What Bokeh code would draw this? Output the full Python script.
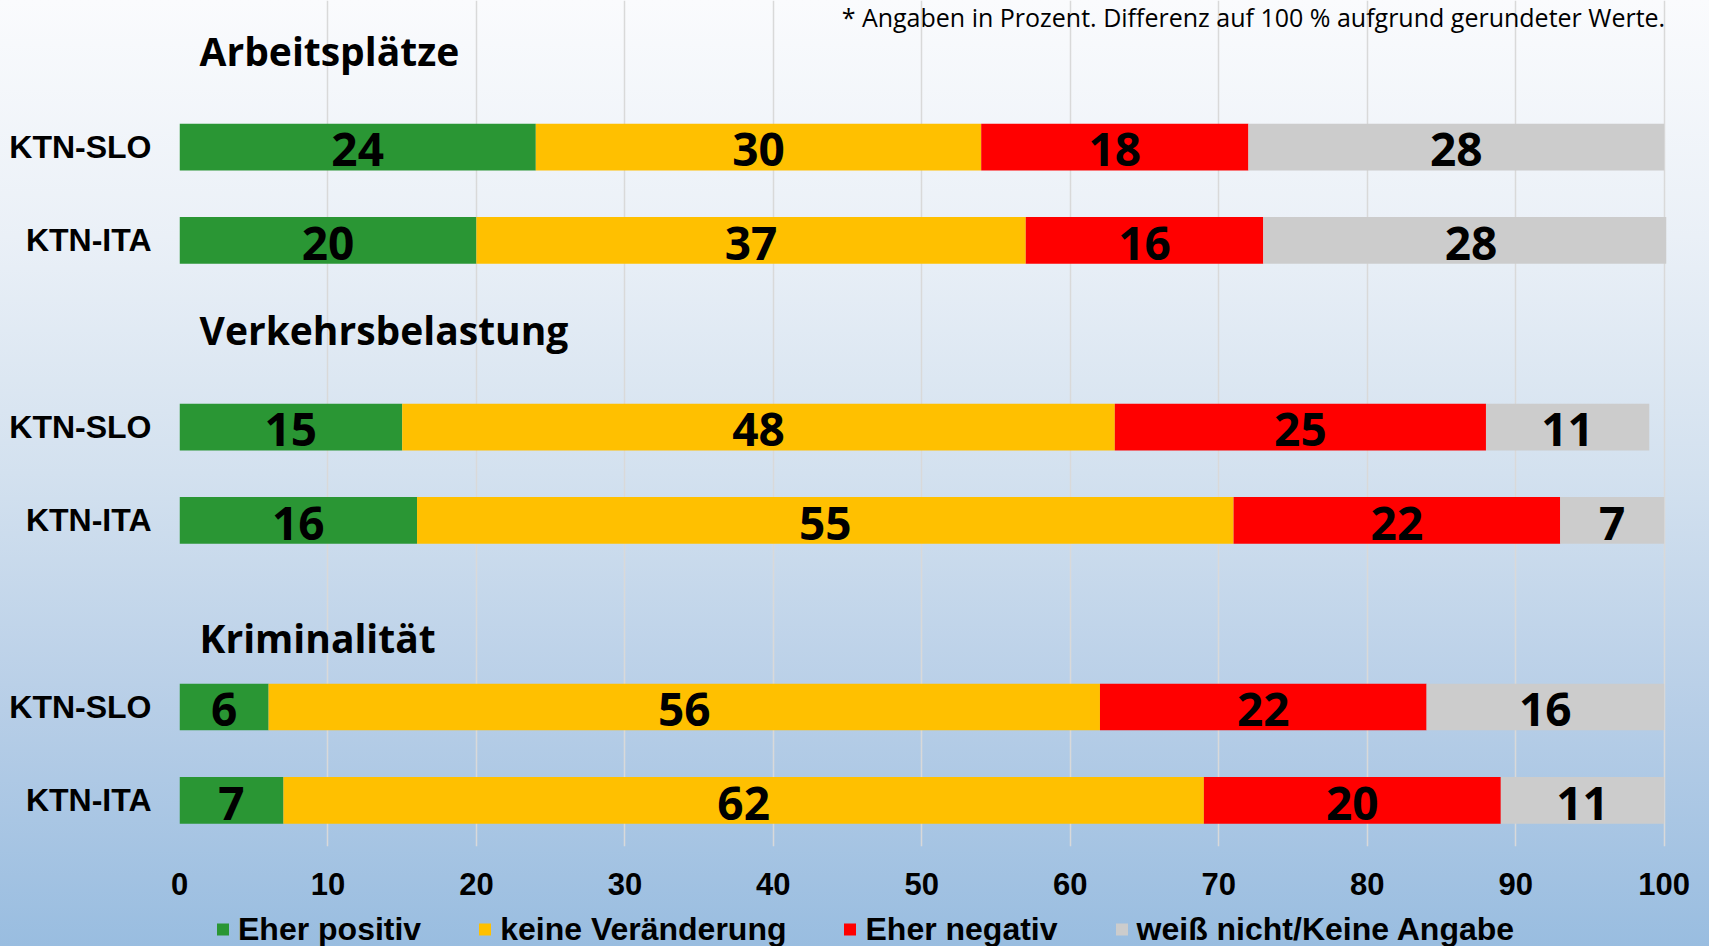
import numpy as np
from bokeh.plotting import figure
from bokeh.layouts import column
from bokeh.models import (ColumnDataSource, Range1d, FixedTicker, Legend, LegendItem,
                          Label, GlobalInlineStyleSheet)
from bokeh.core.properties import value
from bokeh.embed import file_html
from bokeh.resources import INLINE

# ---------------- data ----------------
topics = ["Arbeitsplätze", "Verkehrsbelastung", "Kriminalität"]
regions = ["KTN-SLO", "KTN-ITA"]
eher_positiv = [24, 20, 15, 16, 6, 7]
keine_veraenderung = [30, 37, 48, 55, 56, 62]
eher_negativ = [18, 16, 25, 22, 22, 20]
weiss_nicht = [28, 28, 11, 7, 16, 11]
series_names = ["Eher positiv", "keine Veränderung", "Eher negativ", "weiß nicht/Keine Angabe"]
x_ticks = [0, 10, 20, 30, 40, 50, 60, 70, 80, 90, 100]
note = "* Angaben in Prozent. Differenz auf 100 % aufgrund gerundeter Werte."

# ---------------- style / layout ----------------
colors = ["#2A9634", "#FFC000", "#FF0000", "#CCCCCC"]
title_offsets = [-1.04, -1.05, -0.74]
BAR_H = 0.5
GROUP_STEP = 3

# row slots: group * 3 + row
ys = [GROUP_STEP * g + r for g in range(len(topics)) for r in range(len(regions))]
labels = [regions[r] for g in range(len(topics)) for r in range(len(regions))]

fields = ["pos", "same", "neg", "na"]
src = ColumnDataSource(dict(y=ys, pos=eher_positiv, same=keine_veraenderung,
                            neg=eher_negativ, na=weiss_nicht))

p = figure(width=1709, height=912, output_backend="svg", toolbar_location=None,
           x_range=Range1d(0, 100.16), y_range=Range1d(7.495, -1.5715),
           min_border_left=179, min_border_right=43, min_border_top=0, min_border_bottom=66,
           background_fill_color=None, border_fill_color=None, outline_line_color=None)

p.stylesheets = [GlobalInlineStyleSheet(css="""
html { min-height: 100%; background: linear-gradient(to bottom, #fafbfd 0%, #eaf0f7 25%,
       #d3e1ef 50%, #b7cee7 75%, #99bde0 100%) no-repeat; }
body { background: transparent; }
""")]

renderers = p.hbar_stack(fields, y="y", height=BAR_H, color=colors, source=src,
                         line_color=None)

# value labels
vals = np.array([eher_positiv, keine_veraenderung, eher_negativ, weiss_nicht], dtype=float)
cum = np.cumsum(vals, axis=0)
centers = cum - vals / 2
lx, ly, lt = [], [], []
for s in range(vals.shape[0]):
    for i in range(vals.shape[1]):
        lx.append(centers[s, i])
        ly.append(ys[i] + 0.03)
        lt.append(str(int(vals[s, i])))
p.text(x="x", y="y", text="t", source=ColumnDataSource(dict(x=lx, y=ly, t=lt)),
       text_font=value("Open Sans"), text_font_style="bold", text_font_size="46px",
       text_align="center", text_baseline="middle", text_color="black")

# topic titles
tx = [1.35] * len(topics)
ty = [GROUP_STEP * g + title_offsets[g] for g in range(len(topics))]
p.text(x="x", y="y", text="t", source=ColumnDataSource(dict(x=tx, y=ty, t=topics)),
       text_font=value("Open Sans"), text_font_style="bold", text_font_size="39px",
       text_align="left", text_baseline="middle", text_color="black")

# note
p.add_layout(Label(x=100.07, y=-1.40, text=note, text_align="right", text_baseline="middle",
                   text_font="Open Sans", text_font_size="25px", text_color="black"))

# axes
p.xaxis.ticker = FixedTicker(ticks=x_ticks)
p.xgrid.ticker = FixedTicker(ticks=x_ticks)
p.xgrid.grid_line_color = "#d9d9d9"
p.xgrid.grid_line_width = 1.5
p.ygrid.visible = False
p.xaxis.axis_line_color = None
p.xaxis.major_tick_line_color = None
p.xaxis.minor_tick_line_color = None
p.xaxis.major_tick_out = 0
p.xaxis.major_tick_in = 0
p.xaxis.minor_tick_out = 0
p.xaxis.major_label_text_font = "Liberation Sans"
p.xaxis.major_label_text_font_style = "bold"
p.xaxis.major_label_text_font_size = "31px"
p.xaxis.major_label_text_color = "black"
p.xaxis.major_label_standoff = 26

p.yaxis.ticker = FixedTicker(ticks=ys)
p.yaxis.major_label_overrides = {y: l for y, l in zip(ys, labels)}
p.yaxis.axis_line_color = None
p.yaxis.major_tick_line_color = None
p.yaxis.minor_tick_line_color = None
p.yaxis.major_tick_out = 0
p.yaxis.major_tick_in = 0
p.yaxis.minor_tick_out = 0
p.yaxis.major_label_text_font = "Liberation Sans"
p.yaxis.major_label_text_font_style = "bold"
p.yaxis.major_label_text_font_size = "32px"
p.yaxis.major_label_text_color = "black"
p.yaxis.major_label_standoff = 28

# legend strip (separate figure below the chart; its frame aligns with the chart's)
pl = figure(width=1709, height=34, output_backend="svg", toolbar_location=None,
            x_range=Range1d(0, 1), y_range=Range1d(0, 1),
            x_axis_location=None, y_axis_location=None, min_border=0,
            background_fill_color=None, border_fill_color=None, outline_line_color=None)
pl.xgrid.visible = False
pl.ygrid.visible = False
# legend-only swatch renderers: one zero-length bar placed outside the visible range
swatch = ColumnDataSource(dict(y=[5], left=[0], right=[0]))
leg_renderers = [pl.hbar(y="y", left="left", right="right", height=0.5, color=c,
                         line_color=None, source=swatch) for c in colors]
legend = Legend(items=[LegendItem(label=n, renderers=[r]) for n, r in zip(series_names, leg_renderers)],
                orientation="horizontal", location="left",
                glyph_width=15, glyph_height=15, label_standoff=8, spacing=56,
                padding=0, margin=36, border_line_color=None, background_fill_alpha=0,
                label_text_font="Liberation Sans", label_text_font_style="bold",
                label_text_font_size="32px", label_text_color="black")
pl.add_layout(legend)

layout = column(p, pl, spacing=0)
open("out.html", "w").write(file_html(layout, INLINE))
